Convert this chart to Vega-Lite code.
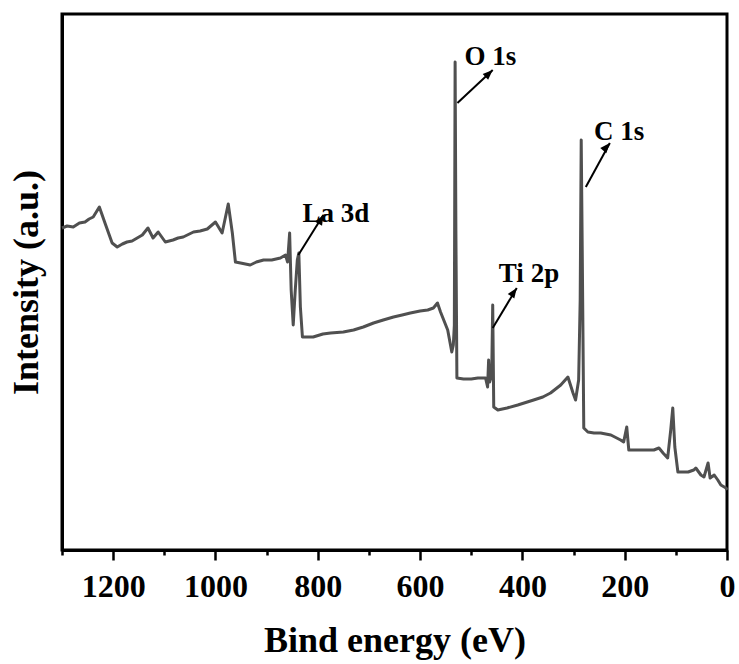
{
  "$schema": "https://vega.github.io/schema/vega-lite/v6.json",
  "width": 665,
  "height": 536,
  "autosize": {"type": "none"},
  "padding": {"left": 62, "top": 14, "right": 12, "bottom": 114},
  "background": "white",
  "config": {
    "view": {"stroke": "black", "strokeWidth": 3},
    "axis": {
      "domainColor": "black",
      "domainWidth": 3,
      "tickColor": "black",
      "tickWidth": 2.5,
      "grid": false,
      "labelFont": "Liberation Serif",
      "labelFontWeight": "bold",
      "labelColor": "black",
      "titleFont": "Liberation Serif",
      "titleFontWeight": "bold",
      "titleColor": "black"
    }
  },
  "datasets": {
    "spectrum": [
      {"e": 1300, "i": 322}, {"e": 1290, "i": 324}, {"e": 1278, "i": 323}, {"e": 1266, "i": 327}, {"e": 1255, "i": 328},
      {"e": 1247, "i": 331}, {"e": 1239, "i": 333}, {"e": 1227, "i": 343}, {"e": 1216, "i": 327}, {"e": 1202, "i": 307},
      {"e": 1192, "i": 303}, {"e": 1182, "i": 306}, {"e": 1173, "i": 308}, {"e": 1163, "i": 309}, {"e": 1153, "i": 312},
      {"e": 1143, "i": 315}, {"e": 1132, "i": 322}, {"e": 1122, "i": 312}, {"e": 1112, "i": 318}, {"e": 1098, "i": 308},
      {"e": 1083, "i": 310}, {"e": 1073, "i": 312}, {"e": 1063, "i": 313}, {"e": 1043, "i": 318}, {"e": 1030, "i": 319},
      {"e": 1016, "i": 321}, {"e": 1000, "i": 328}, {"e": 987, "i": 317}, {"e": 975, "i": 346}, {"e": 967, "i": 317},
      {"e": 961, "i": 288}, {"e": 951, "i": 287}, {"e": 932, "i": 285}, {"e": 920, "i": 288}, {"e": 906, "i": 290},
      {"e": 890, "i": 290}, {"e": 873, "i": 292}, {"e": 863, "i": 295}, {"e": 859, "i": 288}, {"e": 855, "i": 317},
      {"e": 852, "i": 260}, {"e": 848, "i": 225}, {"e": 844, "i": 260}, {"e": 840, "i": 290}, {"e": 837, "i": 297},
      {"e": 834, "i": 243}, {"e": 830, "i": 213}, {"e": 809, "i": 213}, {"e": 790, "i": 216}, {"e": 775, "i": 217},
      {"e": 750, "i": 218}, {"e": 730, "i": 220}, {"e": 711, "i": 223}, {"e": 691, "i": 227}, {"e": 672, "i": 230},
      {"e": 652, "i": 233}, {"e": 635, "i": 235}, {"e": 619, "i": 237}, {"e": 600, "i": 239}, {"e": 585, "i": 240},
      {"e": 574, "i": 242}, {"e": 566, "i": 247}, {"e": 560, "i": 238}, {"e": 546, "i": 220}, {"e": 538, "i": 198},
      {"e": 535, "i": 205}, {"e": 533, "i": 225}, {"e": 531.5, "i": 488}, {"e": 530, "i": 320}, {"e": 528, "i": 172},
      {"e": 515, "i": 171}, {"e": 500, "i": 171}, {"e": 487, "i": 172}, {"e": 472, "i": 172}, {"e": 468, "i": 163},
      {"e": 466, "i": 190}, {"e": 464, "i": 168}, {"e": 460, "i": 175}, {"e": 458, "i": 245}, {"e": 456, "i": 143},
      {"e": 448, "i": 140}, {"e": 430, "i": 142}, {"e": 409, "i": 145}, {"e": 378, "i": 150}, {"e": 360, "i": 153},
      {"e": 345, "i": 157}, {"e": 325, "i": 165}, {"e": 311, "i": 173}, {"e": 301, "i": 157}, {"e": 296, "i": 150},
      {"e": 290, "i": 170}, {"e": 287, "i": 250}, {"e": 285, "i": 410}, {"e": 283, "i": 300}, {"e": 280, "i": 122},
      {"e": 272, "i": 118}, {"e": 260, "i": 117}, {"e": 247, "i": 117}, {"e": 227, "i": 115}, {"e": 208, "i": 110},
      {"e": 202, "i": 108}, {"e": 196, "i": 123}, {"e": 192, "i": 100}, {"e": 168, "i": 100}, {"e": 143, "i": 100},
      {"e": 133, "i": 102}, {"e": 125, "i": 97}, {"e": 116, "i": 92}, {"e": 110, "i": 120}, {"e": 106, "i": 142},
      {"e": 102, "i": 103}, {"e": 96, "i": 78}, {"e": 76, "i": 78}, {"e": 65, "i": 80}, {"e": 61, "i": 82},
      {"e": 51, "i": 75}, {"e": 45, "i": 73}, {"e": 37, "i": 87}, {"e": 33, "i": 72}, {"e": 25, "i": 75},
      {"e": 18, "i": 70}, {"e": 12, "i": 65}, {"e": 2, "i": 62}, {"e": 0, "i": 60}
    ],
    "peaks": [
      {"label": "O 1s", "tx": 513, "ty": 485, "ax": 527, "ay": 447, "bx": 458, "by": 480},
      {"label": "C 1s", "tx": 260, "ty": 410, "ax": 276, "ay": 363, "bx": 229, "by": 407},
      {"label": "Ti 2p", "tx": 446, "ty": 268, "ax": 458, "ay": 222, "bx": 411, "by": 262},
      {"label": "La 3d", "tx": 830, "ty": 328, "ax": 838, "ay": 295, "bx": 789, "by": 335}
    ]
  },
  "layer": [
    {
      "data": {"name": "spectrum"},
      "mark": {"type": "line", "color": "#505050", "strokeWidth": 3, "strokeJoin": "round"},
      "encoding": {
        "x": {
          "field": "e", "type": "quantitative",
          "title": "Bind energy (eV)",
          "scale": {"domain": [0, 1300], "reverse": true, "nice": false, "zero": false},
          "axis": {
            "values": [1300, 1200, 1100, 1000, 900, 800, 700, 600, 500, 400, 300, 200, 100, 0],
            "format": "d",
            "labelExpr": "datum.value % 200 == 0 ? datum.label : ''",
            "tickSize": {"condition": {"test": "datum.value % 200 == 0", "value": 10}, "value": 5},
            "labelFontSize": 32,
            "labelPadding": 11,
            "labelFlush": false,
            "labelOverlap": false,
            "titleFontSize": 36,
            "titlePadding": 21
          }
        },
        "y": {
          "field": "i", "type": "quantitative",
          "title": "Intensity (a.u.)",
          "scale": {"domain": [0, 536], "nice": false, "zero": false},
          "axis": {
            "ticks": false,
            "labels": false,
            "titleFontSize": 36,
            "titlePadding": 17
          }
        }
      }
    },
    {
      "data": {"name": "peaks"},
      "mark": {"type": "rule", "color": "black", "strokeWidth": 2},
      "encoding": {
        "x": {"field": "ax", "type": "quantitative", "title": "Bind energy (eV)"},
        "y": {"field": "ay", "type": "quantitative", "title": "Intensity (a.u.)"},
        "x2": {"field": "bx"},
        "y2": {"field": "by"}
      }
    },
    {
      "data": {"name": "peaks"},
      "mark": {"type": "point", "shape": "M0,0L-0.4,1L0.4,1Z", "filled": true, "color": "black", "opacity": 1, "size": 400},
      "encoding": {
        "x": {"field": "bx", "type": "quantitative", "title": "Bind energy (eV)"},
        "y": {"field": "by", "type": "quantitative", "title": "Intensity (a.u.)"},
        "angle": {
          "field": "label", "type": "nominal",
          "scale": {"domain": ["O 1s", "C 1s", "Ti 2p", "La 3d"], "range": [47, 29, 31, 32]},
          "legend": null
        }
      }
    },
    {
      "data": {"name": "peaks"},
      "mark": {"type": "text", "align": "left", "baseline": "alphabetic", "font": "Liberation Serif", "fontWeight": "bold", "fontSize": 27, "color": "black"},
      "encoding": {
        "x": {"field": "tx", "type": "quantitative", "title": "Bind energy (eV)"},
        "y": {"field": "ty", "type": "quantitative", "title": "Intensity (a.u.)"},
        "text": {"field": "label"}
      }
    }
  ]
}
